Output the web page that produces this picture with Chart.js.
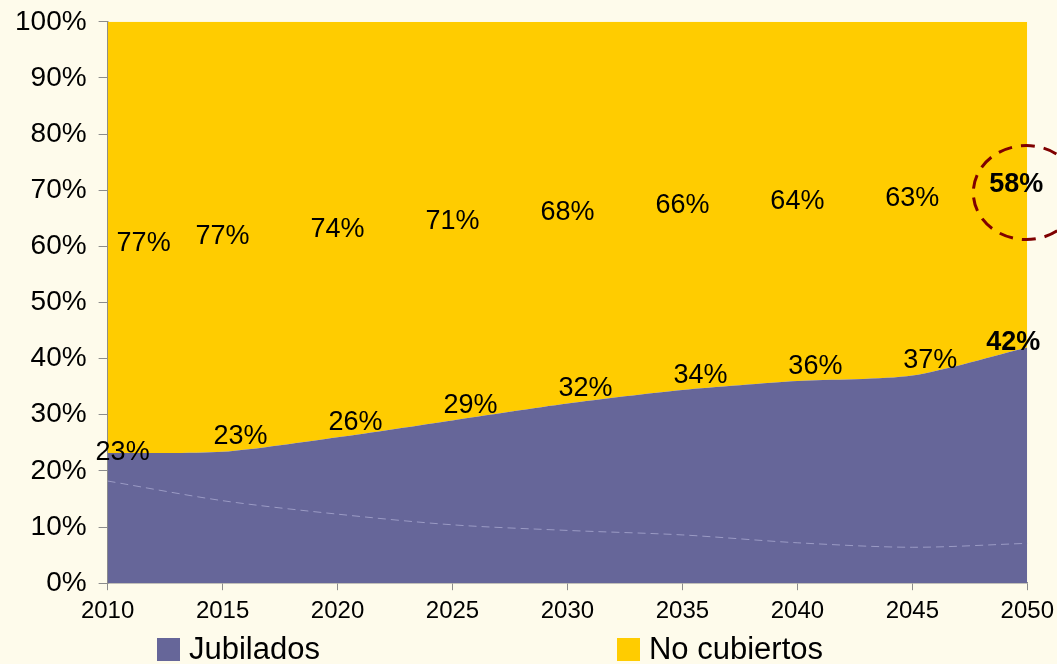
<!DOCTYPE html>
<html>
<head>
<meta charset="utf-8">
<script src="https://cdn.jsdelivr.net/npm/chart.js@4.4.1/dist/chart.umd.min.js"></script>
<style>
  body { margin: 0; background: #FEFBEB; font-family: "Liberation Sans", Arial, sans-serif; overflow: hidden; }
  #wrap { position: relative; width: 1057px; height: 664px; overflow: hidden; }
  #box { position: absolute; left: 0; top: -7px; width: 1061px; height: 671px; }
  #legend { position: absolute; top: 631px; left: 157px; display: flex; gap: 297px; }
  .item { display: flex; align-items: center; font-size: 31px; color: #000; }
  .swatch { width: 23px; height: 23px; margin-right: 9px; }
</style>
</head>
<body>
<div id="wrap">
  <div id="box"><canvas id="chart"></canvas></div>
  <div id="legend"></div>
</div>
<script>
const years = ['2010', '2015', '2020', '2025', '2030', '2035', '2040', '2045', '2050'];
const jubilados = [23.2, 23.4, 26, 29, 32, 34.4, 36, 37, 42];
const noCubiertos = [77, 77, 74, 71, 68, 66, 64, 63, 58];
// faint line inside the purple area
const jubiladosBase = [18.2, 14.7, 12.3, 10.4, 9.4, 8.6, 7.2, 6.4, 7.1];
const yTicks = [0, 10, 20, 30, 40, 50, 60, 70, 80, 90, 100];

const PURPLE = '#666699';
const YELLOW = '#FFCC00';
const FONT = '"Liberation Sans", Arial, sans-serif';

// value labels + dashed ellipse round the last "No cubiertos" value
const labelPlugin = {
  id: 'valueLabels',
  afterDatasetsDraw(chart) {
    const ctx = chart.ctx;
    const x = chart.scales.x, y = chart.scales.y;
    const last = years.length - 1;
    ctx.save();
    ctx.fillStyle = '#000';
    ctx.textAlign = 'center';
    ctx.textBaseline = 'middle';
    years.forEach((yr, i) => {
      const px = x.getPixelForValue(i);
      const top = y.getPixelForValue(jubilados[i]);
      const bold = i === last ? 'bold ' : '';
      ctx.font = bold + '27px ' + FONT;
      let jx = px + 18, jy = top - 15;
      if (i === 0) { jx = px + 15; jy = top; }
      if (i === last) { jx = px - 14; jy = top - 5; }
      ctx.fillText(Math.round(jubilados[i]) + '%', jx, jy);

      const mid = y.getPixelForValue((jubilados[i] + 100) / 2);
      const nx = i === 0 ? px + 36 : (i === last ? px - 11 : px);
      const ny = i === 0 ? mid + 6 : mid;
      ctx.fillText(noCubiertos[i] + '%', nx, ny);
      if (i === last) {
        ctx.beginPath();
        ctx.setLineDash([14, 9]);
        ctx.lineWidth = 3;
        ctx.strokeStyle = '#7F0000';
        ctx.ellipse(nx + 10, mid + 8, 53, 47, 0, 0, Math.PI * 2);
        ctx.stroke();
      }
    });
    ctx.restore();
  }
};

new Chart(document.getElementById('chart'), {
  type: 'line',
  data: {
    labels: years,
    datasets: [
      {
        label: 'base',
        data: jubiladosBase,
        stack: 'inner',
        fill: false,
        borderColor: 'rgba(190,190,225,0.6)',
        borderWidth: 1,
        borderDash: [8, 5],
        pointRadius: 0,
        tension: 0.3
      },
      {
        label: 'Jubilados',
        data: jubilados,
        stack: 'total',
        fill: 'origin',
        backgroundColor: PURPLE,
        borderColor: PURPLE,
        borderWidth: 0,
        pointRadius: 0,
        tension: 0.25
      },
      {
        label: 'No cubiertos',
        data: noCubiertos,
        stack: 'total',
        fill: '-1',
        backgroundColor: YELLOW,
        borderColor: YELLOW,
        borderWidth: 0,
        pointRadius: 0,
        tension: 0.25
      }
    ]
  },
  options: {
    responsive: true,
    maintainAspectRatio: false,
    animation: false,
    layout: { padding: { left: 3, right: 27, top: 0, bottom: 31 } },
    plugins: {
      legend: { display: false },
      tooltip: { enabled: false }
    },
    scales: {
      x: {
        offset: false,
        border: { color: '#8c8c8c', width: 1.5 },
        grid: { display: true, drawOnChartArea: false, color: '#8c8c8c', tickLength: 7 },
        ticks: { color: '#000', font: { family: FONT, size: 24 }, padding: 7, maxRotation: 0 }
      },
      y: {
        stacked: true,
        min: 0,
        max: 100,
        afterBuildTicks: (axis) => { axis.ticks = yTicks.map(v => ({ value: v })); },
        border: { color: '#8c8c8c', width: 1.5 },
        grid: { display: true, drawOnChartArea: false, color: '#8c8c8c', tickLength: 9 },
        ticks: { color: '#000', font: { family: FONT, size: 28 }, padding: 12, callback: v => v + '%' }
      }
    }
  },
  plugins: [labelPlugin]
});

// legend
const legendEl = document.getElementById('legend');
[['Jubilados', PURPLE], ['No cubiertos', YELLOW]].forEach(([name, col]) => {
  const it = document.createElement('div');
  it.className = 'item';
  it.innerHTML = '<span class="swatch" style="background:' + col + '"></span><span>' + name + '</span>';
  legendEl.appendChild(it);
});
</script>
</body>
</html>
